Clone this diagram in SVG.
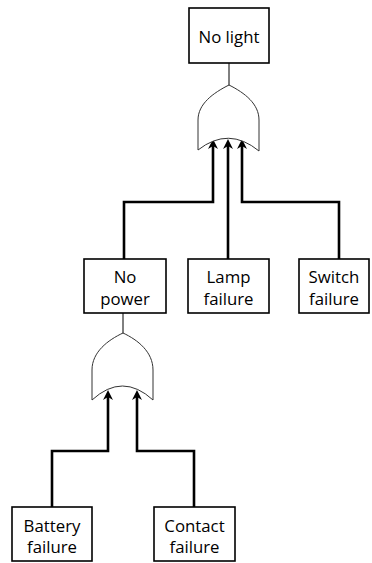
<svg xmlns="http://www.w3.org/2000/svg" width="372" height="563" viewBox="0 0 372 563">
<defs>
<style>
.box{fill:#fff;stroke:#000;stroke-width:1.6}
.t{font-family:"Open Sans","Liberation Sans",sans-serif;font-size:16.8px;fill:#000;text-anchor:middle}
.gate{fill:#fff;stroke:#333;stroke-width:1}
.thin{fill:none;stroke:#000;stroke-width:1}
.conn{fill:none;stroke:#000;stroke-width:2.6;stroke-linejoin:miter}
</style>
<marker id="ah" viewBox="0 0 10 10" refX="3" refY="5" markerWidth="10" markerHeight="10" markerUnits="userSpaceOnUse" orient="auto">
<path d="M10,5 L0,0 L3,5 L0,10 Z" fill="#000"/>
</marker>
</defs>
<rect width="372" height="563" fill="#fff"/>
<g id="connectors">
<path class="thin" d="M229,63 V86"/>
<path class="thin" d="M123,313 V334"/>
<path class="conn" d="M124,259 V202 H213 V146" marker-end="url(#ah)"/>
<path class="conn" d="M228,259 V146" marker-end="url(#ah)"/>
<path class="conn" d="M339,259 V202 H242 V146" marker-end="url(#ah)"/>
<path class="conn" d="M52,507 V451 H108 V397" marker-end="url(#ah)"/>
<path class="conn" d="M194,507 V451 H137 V397" marker-end="url(#ah)"/>
</g>
<g id="gate1">
<path class="gate" d="M229,85 C213,93 198,104 198,120 L198,150 Q228.5,126 259,151 L259,120 C259,104 245,93 229,85 Z"/>
</g>
<g id="gate2">
<path class="gate" d="M123,333 C108,340 92,352 92,370 L92,400 Q122.5,372 153,400 L153,370 C153,352 138,340 123,333 Z"/>
</g>
<g id="no-light">
<rect class="box" x="189" y="8" width="80" height="55"/>
<text class="t" x="229" y="43">No light</text>
</g>
<g id="no-power">
<rect class="box" x="84" y="259" width="82" height="54"/>
<text class="t" x="125" y="283">No</text>
<text class="t" x="125" y="305">power</text>
</g>
<g id="lamp-failure">
<rect class="box" x="188" y="259" width="81" height="54"/>
<text class="t" x="228.5" y="283">Lamp</text>
<text class="t" x="228.5" y="305">failure</text>
</g>
<g id="switch-failure">
<rect class="box" x="299" y="259" width="70" height="54"/>
<text class="t" x="334" y="283">Switch</text>
<text class="t" x="334" y="305">failure</text>
</g>
<g id="battery-failure">
<rect class="box" x="12" y="507" width="80" height="54"/>
<text class="t" x="52" y="532">Battery</text>
<text class="t" x="52" y="553">failure</text>
</g>
<g id="contact-failure">
<rect class="box" x="154" y="507" width="81" height="54"/>
<text class="t" x="194.5" y="532">Contact</text>
<text class="t" x="194.5" y="553">failure</text>
</g>
</svg>
